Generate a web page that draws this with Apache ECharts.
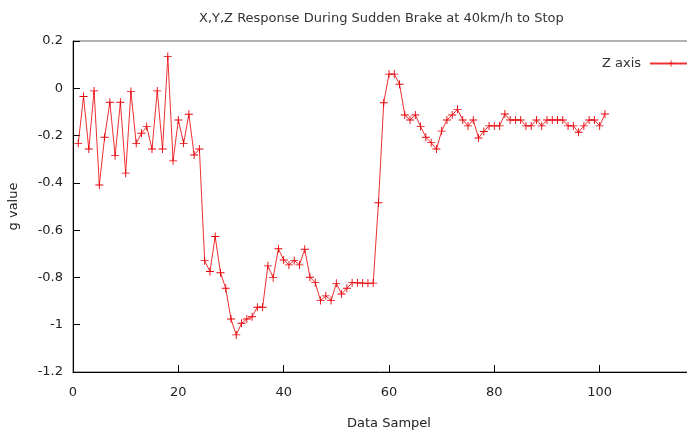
<!DOCTYPE html>
<html><head><meta charset="utf-8">
<script src="https://cdn.jsdelivr.net/npm/echarts@6/dist/echarts.min.js"></script>
<style>html,body{margin:0;padding:0;background:#fff}#c{width:687px;height:432px}</style>
</head><body><div id="c"></div>
<script>
const titleText = 'X,Y,Z Response During Sudden Brake at 40km/h to Stop';
const seriesName = 'Z axis';
const xLabel = 'Data Sampel';
const yLabel = 'g value';
const samples = [];
for (let i = 1; i <= 101; i++) samples.push(i);
const zValues = [
 -0.233,-0.035,-0.257,-0.011,-0.409,-0.207,-0.059,-0.285,-0.059,-0.359,
 -0.014,-0.233,-0.190,-0.162,-0.257,-0.011,-0.257,0.134,-0.307,-0.134,
 -0.233,-0.110,-0.282,-0.257,-0.729,-0.775,-0.627,-0.780,-0.846,-0.976,
 -1.043,-0.994,-0.976,-0.966,-0.926,-0.926,-0.751,-0.801,-0.679,-0.726,
 -0.747,-0.728,-0.747,-0.681,-0.799,-0.822,-0.898,-0.878,-0.898,-0.825,
 -0.870,-0.846,-0.822,-0.823,-0.824,-0.825,-0.824,-0.484,-0.061,0.060,
 0.060,0.017,-0.113,-0.134,-0.113,-0.162,-0.207,-0.230,-0.257,-0.181,
 -0.134,-0.113,-0.089,-0.134,-0.159,-0.134,-0.210,-0.183,-0.159,-0.159,
 -0.159,-0.109,-0.134,-0.134,-0.134,-0.159,-0.159,-0.134,-0.159,-0.134,
 -0.134,-0.134,-0.134,-0.159,-0.159,-0.186,-0.159,-0.134,-0.134,-0.159,
 -0.109
];
const xTicks = {min: 0, max: 120, interval: 20};
const yTicks = {min: -1.2, max: 0.2, interval: 0.2};

const FONT = 'DejaVu Sans';
const FS = 13;
const plus = 'path://M0,3.55H8V4.45H0Z M3.55,0H4.45V8H3.55Z';

const chart = echarts.init(document.getElementById('c'), null, {renderer: 'canvas'});
chart.setOption({
  animation: false,
  backgroundColor: '#fff',
  title: {text: titleText, left: 194, top: 7, textStyle: {fontFamily: FONT, fontSize: FS, fontWeight: 'normal', color: '#333'}},
  legend: {
    left: 597, top: 52, align: 'right', itemWidth: 42, itemHeight: 8,
    data: [{name: seriesName}],
    textStyle: {fontFamily: FONT, fontSize: FS, color: '#333', padding: [0, 4, 0, 0]}
  },
  grid: {left: 73, top: 41, height: 331, width: 632, containLabel: false, outerBoundsMode: 'none',
         show: true, borderColor: '#666', borderWidth: 1, backgroundColor: 'transparent'},
  xAxis: {
    type: 'value', min: xTicks.min, max: xTicks.max, interval: xTicks.interval,
    name: xLabel, nameLocation: 'middle', nameGap: 45,
    nameTextStyle: {fontFamily: FONT, fontSize: FS, color: '#222'},
    axisLine: {show: true, onZero: false, lineStyle: {color: '#000'}},
    axisTick: {show: true, inside: true, length: 7, lineStyle: {color: '#000', width: 1}},
    axisLabel: {fontFamily: FONT, fontSize: FS, color: '#222', margin: 14},
    splitLine: {show: false}
  },
  yAxis: {
    type: 'value', min: yTicks.min, max: yTicks.max, interval: yTicks.interval,
    name: yLabel, nameLocation: 'middle', nameGap: 53, nameRotate: 90,
    nameTextStyle: {fontFamily: FONT, fontSize: FS, color: '#222'},
    axisLine: {show: true, onZero: false, lineStyle: {color: '#000'}},
    axisTick: {show: true, inside: true, length: 7, lineStyle: {color: '#000', width: 1}},
    axisLabel: {fontFamily: FONT, fontSize: FS, color: '#222', margin: 10},
    splitLine: {show: false}
  },
  series: [{
    name: seriesName, type: 'line',
    data: samples.map((s, i) => [s, zValues[i]]),
    symbol: plus, symbolSize: 8, showAllSymbol: true,
    lineStyle: {color: '#f03030', width: 1},
    itemStyle: {color: '#e8000a'},
    emphasis: {disabled: true}, z: 3
  }]
});
</script></body></html>
